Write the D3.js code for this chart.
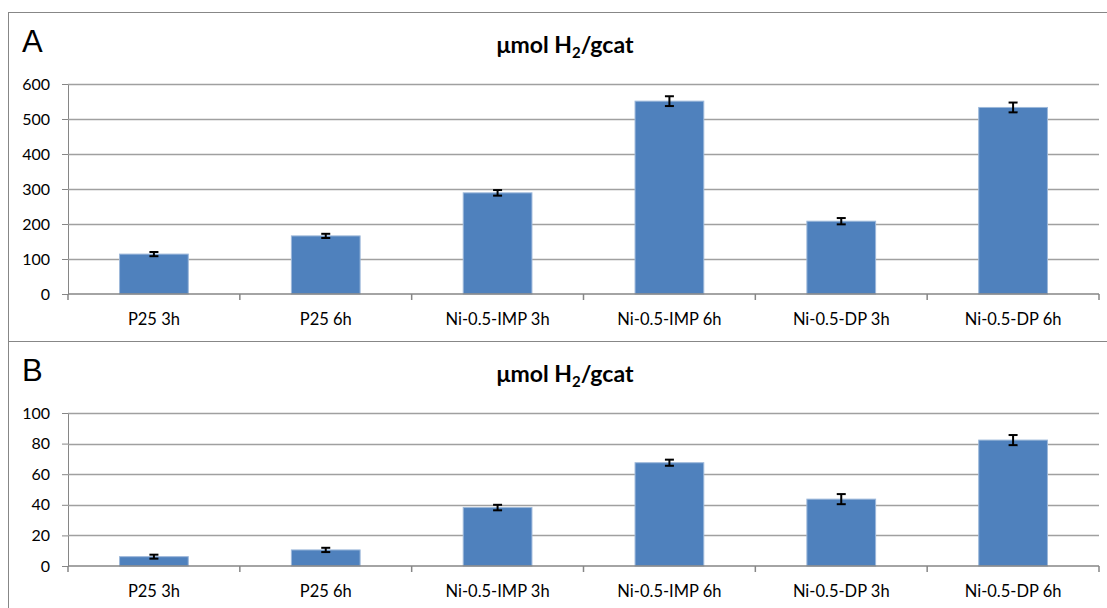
<!DOCTYPE html>
<html><head><meta charset="utf-8">
<script src="https://cdn.jsdelivr.net/npm/d3@7"></script>
<style>
body{margin:0;background:#fff;}
svg{display:block;}
</style></head>
<body>
<svg id="c" width="1107" height="608"></svg>
<script>
const categories = ["P25 3h","P25 6h","Ni-0.5-IMP 3h","Ni-0.5-IMP 6h","Ni-0.5-DP 3h","Ni-0.5-DP 6h"];
const valuesA = [114, 166, 289, 551, 208, 533];
const errorsA = [6, 6, 8, 14, 9, 14];
const ticksA = [0,100,200,300,400,500,600];
const valuesB = [6.1, 10.5, 38.2, 67.5, 43.7, 82.3];
const errorsB = [1.3, 1.4, 1.8, 2.0, 3.3, 3.3];
const ticksB = [0,20,40,60,80,100];
const panelLabels = ["A","B"];

const svg = d3.select("#c");
const FONT = "Lato, 'Open Sans', sans-serif";

const panels = [
  {label:panelLabels[0], top:12, bottom:341, yTop:84, yZero:294, values:valuesA, errors:errorsA, ticks:ticksA, max:600},
  {label:panelLabels[1], top:341, bottom:640, yTop:413, yZero:566, values:valuesB, errors:errorsB, ticks:ticksB, max:100}
];

panels.forEach(p => {
  const g = svg.append("g");
  g.append("rect").attr("x",8.5).attr("y",p.top+0.5).attr("width",1130).attr("height",p.bottom-p.top)
    .attr("fill","#fff").attr("stroke","#878787").attr("stroke-width",1);
  g.append("text").attr("x",22).attr("y",p.top+40).attr("font-family","Arial, 'Liberation Sans', sans-serif")
    .attr("font-size",31).attr("fill","#000").text(p.label);
  const t = g.append("text").attr("x",565).attr("y",p.top+41).attr("text-anchor","middle")
    .attr("font-family",FONT).attr("font-weight","bold").attr("font-size",23).attr("fill","#000");
  t.append("tspan").text("μmol H");
  t.append("tspan").attr("font-size",15).attr("dy",5).text("2");
  t.append("tspan").attr("dy",-5).text("/gcat");

  const x = d3.scaleBand().domain(categories).range([68,1099]).paddingInner(0.6).paddingOuter(0.3);
  const y = d3.scaleLinear().domain([0,p.max]).range([p.yZero,p.yTop]);

  // gridlines + y axis
  const ya = d3.axisLeft(y).tickValues(p.ticks).tickSize(6).tickPadding(12);
  const yg = g.append("g").attr("transform","translate(68,0)").call(ya);
  yg.select(".domain").attr("stroke","#868686");
  yg.selectAll(".tick line").attr("stroke","#868686");
  yg.selectAll(".tick text").attr("font-family",FONT).attr("font-size",16).attr("fill","#000");
  g.append("g").selectAll("line").data(p.ticks.filter(d=>d>0)).join("line")
    .attr("x1",68).attr("x2",1099).attr("y1",d=>Math.round(y(d))+0.5).attr("y2",d=>Math.round(y(d))+0.5)
    .attr("stroke","#a0a0a0").attr("stroke-width",1.5);

  // bars
  g.append("g").selectAll("rect").data(categories).join("rect")
    .attr("x",d=>x(d)).attr("width",x.bandwidth())
    .attr("y",(d,i)=>y(p.values[i])).attr("height",(d,i)=>p.yZero-y(p.values[i]))
    .attr("fill","#4f81bd").attr("stroke","#9db8da").attr("stroke-width",1);

  // x axis
  const xPos = d3.scaleBand().domain(categories).range([68,1099]);
  const xa = d3.axisBottom(xPos).tickSize(0).tickPadding(19);
  const xg = g.append("g").attr("transform",`translate(0,${p.yZero})`).call(xa);
  xg.select(".domain").attr("stroke","#868686").attr("stroke-width",1.5).attr("d",`M68,0H1099`);
  xg.selectAll(".tick text").attr("font-family",FONT).attr("font-size",16.5).attr("fill","#000");
  const edges = categories.map(c=>xPos(c)).concat([1099]);
  g.append("g").selectAll("line").data(edges).join("line")
    .attr("x1",d=>d).attr("x2",d=>d).attr("y1",p.yZero).attr("y2",p.yZero+6)
    .attr("stroke","#868686").attr("stroke-width",1.5);

  // error bars
  const eb = g.append("g").attr("stroke","#000").attr("stroke-width",2);
  categories.forEach((c,i)=>{
    const cx = x(c)+x.bandwidth()/2;
    const y1 = y(p.values[i]+p.errors[i]), y2 = y(p.values[i]-p.errors[i]);
    eb.append("line").attr("x1",cx).attr("x2",cx).attr("y1",y1).attr("y2",y2);
    eb.append("line").attr("x1",cx-4.5).attr("x2",cx+4.5).attr("y1",y1).attr("y2",y1);
    eb.append("line").attr("x1",cx-4.5).attr("x2",cx+4.5).attr("y1",y2).attr("y2",y2);
  });
});
</script>
</body></html>
